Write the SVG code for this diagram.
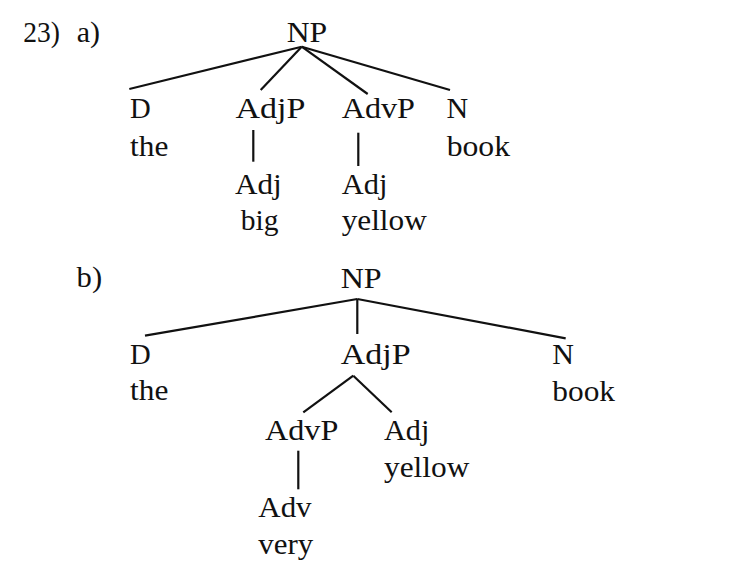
<svg xmlns="http://www.w3.org/2000/svg" width="752" height="579" viewBox="0 0 752 579">
<style>
text{font-family:"Liberation Serif","DejaVu Serif",serif;font-size:29.5px;fill:#111;}
.e{stroke:#111;stroke-width:2.2;stroke-linecap:butt;fill:none;}
</style>
<rect width="752" height="579" fill="#fff"/>
<g id="labels">
<text x="23.3" y="41.7" textLength="36.7" lengthAdjust="spacingAndGlyphs">23)</text>
<text x="76.7" y="41.7" textLength="23.3" lengthAdjust="spacingAndGlyphs">a)</text>
<text x="76.6" y="287" textLength="25.5" lengthAdjust="spacingAndGlyphs">b)</text>
</g>
<g id="connectors">
<line class="e" x1="301.7" y1="46.7" x2="129.3" y2="89"/>
<line class="e" x1="301.7" y1="46.7" x2="260.7" y2="90"/>
<line class="e" x1="301.7" y1="46.7" x2="367.7" y2="94"/>
<line class="e" x1="301.7" y1="46.7" x2="450" y2="90"/>
<line class="e" x1="253.3" y1="130" x2="253.3" y2="161.7"/>
<line class="e" x1="358.3" y1="132.7" x2="358.3" y2="166"/>
<line class="e" x1="357.3" y1="299" x2="145" y2="335.7"/>
<line class="e" x1="357.3" y1="299" x2="357.3" y2="334"/>
<line class="e" x1="357.3" y1="299" x2="565.7" y2="338.3"/>
<line class="e" x1="353.3" y1="375.7" x2="303.3" y2="412.3"/>
<line class="e" x1="353.3" y1="375.7" x2="391.7" y2="412.3"/>
<line class="e" x1="298.3" y1="450.7" x2="298.3" y2="489.3"/>
</g>
<g id="a-NP"><text x="286.7" y="41.7" textLength="40.5" lengthAdjust="spacingAndGlyphs">NP</text></g>
<g id="a-D"><text x="130" y="118.3" textLength="20.7" lengthAdjust="spacingAndGlyphs">D</text><text x="130" y="156" textLength="38.3" lengthAdjust="spacingAndGlyphs">the</text></g>
<g id="a-AdjP"><text x="235.5" y="118.3" textLength="70" lengthAdjust="spacingAndGlyphs">AdjP</text></g>
<g id="a-Adj"><text x="235" y="194.3" textLength="46.7" lengthAdjust="spacingAndGlyphs">Adj</text><text x="240.7" y="230.3" textLength="37.7" lengthAdjust="spacingAndGlyphs">big</text></g>
<g id="a-AdvP"><text x="341.7" y="118.3" textLength="73.3" lengthAdjust="spacingAndGlyphs">AdvP</text></g>
<g id="a-Adj2"><text x="341.7" y="194.3" textLength="45.7" lengthAdjust="spacingAndGlyphs">Adj</text><text x="341.7" y="230.3" textLength="85" lengthAdjust="spacingAndGlyphs">yellow</text></g>
<g id="a-N"><text x="446.5" y="118.3" textLength="21.7" lengthAdjust="spacingAndGlyphs">N</text><text x="446.7" y="156" textLength="63.3" lengthAdjust="spacingAndGlyphs">book</text></g>
<g id="b-NP"><text x="340.7" y="288.3" textLength="41" lengthAdjust="spacingAndGlyphs">NP</text></g>
<g id="b-D"><text x="130" y="364" textLength="20.7" lengthAdjust="spacingAndGlyphs">D</text><text x="130" y="400" textLength="38.3" lengthAdjust="spacingAndGlyphs">the</text></g>
<g id="b-AdjP"><text x="340.7" y="364" textLength="70" lengthAdjust="spacingAndGlyphs">AdjP</text></g>
<g id="b-N"><text x="552.3" y="364" textLength="21.7" lengthAdjust="spacingAndGlyphs">N</text><text x="552.3" y="400.7" textLength="62.7" lengthAdjust="spacingAndGlyphs">book</text></g>
<g id="b-AdvP"><text x="265" y="440" textLength="73.3" lengthAdjust="spacingAndGlyphs">AdvP</text></g>
<g id="b-Adj"><text x="384" y="440" textLength="45.3" lengthAdjust="spacingAndGlyphs">Adj</text><text x="384" y="477.3" textLength="85.3" lengthAdjust="spacingAndGlyphs">yellow</text></g>
<g id="b-Adv"><text x="258.3" y="516.7" textLength="53.3" lengthAdjust="spacingAndGlyphs">Adv</text><text x="258.3" y="554" textLength="55" lengthAdjust="spacingAndGlyphs">very</text></g>
</svg>
